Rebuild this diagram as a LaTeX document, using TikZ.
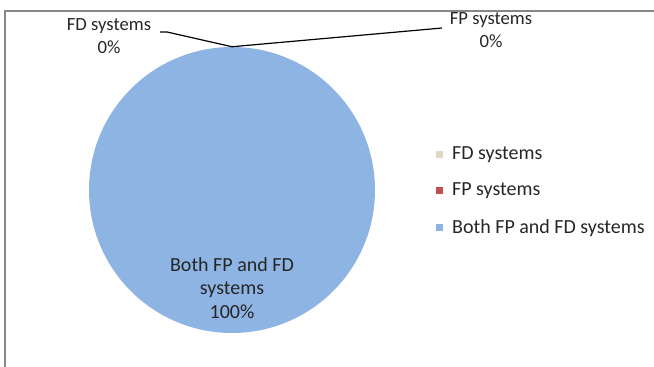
\documentclass[tikz,border=0pt]{standalone}
\usepackage{fontspec}
\setmainfont{Carlito}
\usetikzlibrary{positioning}

\definecolor{fdcol}{RGB}{221,217,195}
\definecolor{fpcol}{RGB}{192,80,77}
\definecolor{bothcol}{RGB}{142,180,227}
\definecolor{framecol}{RGB}{134,134,134}

\begin{document}
\begin{tikzpicture}[
    x=0.75pt, y=-0.75pt,
    every node/.style={font=\fontsize{15}{17.5}\selectfont, text=black!85, inner sep=0pt},
    datalabel/.style={align=center},
    toplabel/.style={datalabel, font=\fontsize{14}{17.5}\selectfont},
    leader/.style={black, line width=0.9pt},
    legendkey/.style={minimum size=5.25pt, draw=none},
    legendtext/.style={right=6.5pt of #1}
]
    \useasboundingbox (0,0) rectangle (654,367);

    % chart frame
    \draw[framecol, line width=1pt] (5,367) -- (5,11) -- (654,11);

    % pie (one slice of 100%)
    \node[circle, fill=bothcol, minimum size=214.5pt] (pie) at (232,190) {};
    \node[datalabel] (bothlab) at (232,288) {Both FP and FD\\systems\\100\%};

    % data labels with leader lines
    \node[toplabel] (fdlab) at (109,36) {FD systems\\0\%};
    \node[toplabel] (fplab) at (491,30) {FP systems\\0\%};
    \coordinate (fdend) at (160,32);
    \coordinate (fpend) at (442,28);
    \draw[leader] (pie.north) -- (167,32) -- (fdend);
    \draw[leader] (pie.north) -- (431,29) -- (fpend);

    % legend
    \node[legendkey, fill=fdcol] (k1) at (439.5,155) {};
    \node[legendkey, fill=fpcol] (k2) at (439.5,191) {};
    \node[legendkey, fill=bothcol] (k3) at (439.5,228) {};
    \node[legendtext=k1] (t1) {FD systems};
    \node[legendtext=k2] (t2) {FP systems};
    \node[legendtext=k3] (t3) {Both FP and FD systems};

\end{tikzpicture}
\end{document}
